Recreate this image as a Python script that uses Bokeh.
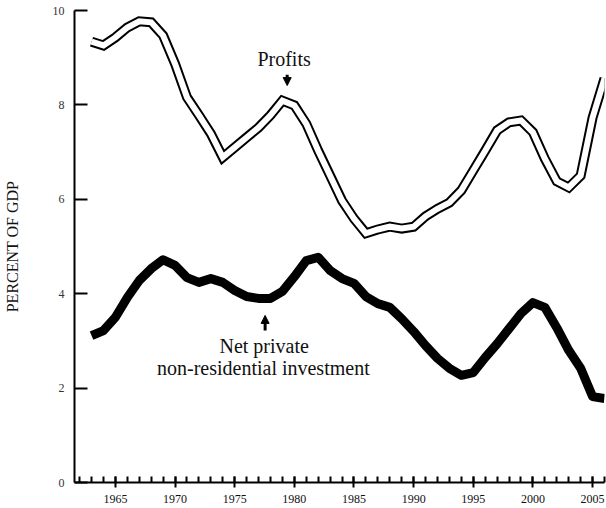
from bokeh.plotting import figure
from bokeh.models import Range1d, SingleIntervalTicker, FixedTicker, Label, Arrow, NormalHead
from bokeh.embed import file_html
from bokeh.resources import INLINE

years = list(range(1963, 2007))
profits = [9.34, 9.26, 9.43, 9.64, 9.77, 9.75, 9.47, 8.87, 8.16, 7.78, 7.39, 6.89,
           7.10, 7.31, 7.52, 7.78, 8.09, 7.99, 7.60, 7.03, 6.50, 5.97, 5.59, 5.28,
           5.36, 5.42, 5.38, 5.42, 5.64, 5.80, 5.93, 6.19, 6.61, 7.03, 7.46, 7.63,
           7.67, 7.42, 6.86, 6.38, 6.25, 6.50, 7.73, 8.56]
investment = [3.11, 3.22, 3.50, 3.92, 4.28, 4.53, 4.72, 4.60, 4.34, 4.24, 4.32, 4.24,
              4.07, 3.94, 3.90, 3.90, 4.05, 4.36, 4.70, 4.77, 4.49, 4.32, 4.22, 3.94,
              3.79, 3.71, 3.47, 3.20, 2.90, 2.63, 2.42, 2.27, 2.33, 2.65, 2.94, 3.26,
              3.58, 3.81, 3.71, 3.28, 2.80, 2.42, 1.82, 1.78]
y_ticks = [0, 2, 4, 6, 8, 10]
y_axis_title = "PERCENT OF GDP"
profits_label = "Profits"
invest_label_1 = "Net private"
invest_label_2 = "non-residential investment"

SERIF = "Liberation Serif"

p = figure(width=606, height=508, output_backend="svg", toolbar_location=None,
           x_range=Range1d(1961.57, 2006.0), y_range=Range1d(0, 10),
           min_border_left=73, min_border_right=2, min_border_top=10, min_border_bottom=26)
p.outline_line_color = None
p.xgrid.visible = False
p.ygrid.visible = False
p.background_fill_color = "white"

# axes
xa = p.xaxis[0]
xa.ticker = SingleIntervalTicker(interval=5, num_minor_ticks=5)
xa.axis_line_width = 2
xa.major_tick_line_width = 2
xa.minor_tick_line_width = 2
xa.major_tick_in = 6
xa.major_tick_out = 5
xa.minor_tick_in = 6
xa.minor_tick_out = 0
xa.major_label_standoff = 7
xa.major_label_text_font = SERIF
xa.major_label_text_font_size = "12px"
xa.major_label_text_color = "#111111"

ya = p.yaxis[0]
ya.ticker = FixedTicker(ticks=y_ticks, minor_ticks=[])
ya.axis_line_width = 2
ya.major_tick_line_width = 2
ya.major_tick_in = 13
ya.major_tick_out = 0
ya.major_label_standoff = 10
ya.major_label_text_font = SERIF
ya.major_label_text_font_size = "12px"
ya.major_label_text_color = "#333333"
ya.axis_label = y_axis_title
ya.axis_label_text_font = SERIF
ya.axis_label_text_font_size = "16px"
ya.axis_label_text_font_style = "normal"
ya.axis_label_text_color = "#111111"
ya.axis_label_standoff = 29

# profits: double (outlined) line
p.line(years, profits, line_color="black", line_width=10, line_join="miter", line_cap="butt")
p.line(years, profits, line_color="white", line_width=6, line_join="miter", line_cap="butt")

# investment: thick black line
p.line(years, investment, line_color="black", line_width=9, line_join="round", line_cap="butt")

# annotations
p.add_layout(Label(x=1979.14, y=8.98, text=profits_label, text_font=SERIF,
                   text_font_size="20px", text_align="center", text_baseline="alphabetic",
                   text_color="#111111"))
p.add_layout(Arrow(end=NormalHead(size=8, fill_color="black", line_color="black"),
                   x_start=1979.4, y_start=8.64, x_end=1979.4, y_end=8.41,
                   line_width=3, line_color="black"))

p.add_layout(Label(x=1977.47, y=2.90, text=invest_label_1, text_font=SERIF,
                   text_font_size="20px", text_align="center", text_baseline="alphabetic",
                   text_color="#111111"))
p.add_layout(Label(x=1977.4, y=2.42, text=invest_label_2, text_font=SERIF,
                   text_font_size="20px", text_align="center", text_baseline="alphabetic",
                   text_color="#111111"))
p.add_layout(Arrow(end=NormalHead(size=8, fill_color="black", line_color="black"),
                   x_start=1977.55, y_start=3.22, x_end=1977.55, y_end=3.54,
                   line_width=3, line_color="black"))

html = file_html(p, INLINE)
open("out.html", "w").write(html)
